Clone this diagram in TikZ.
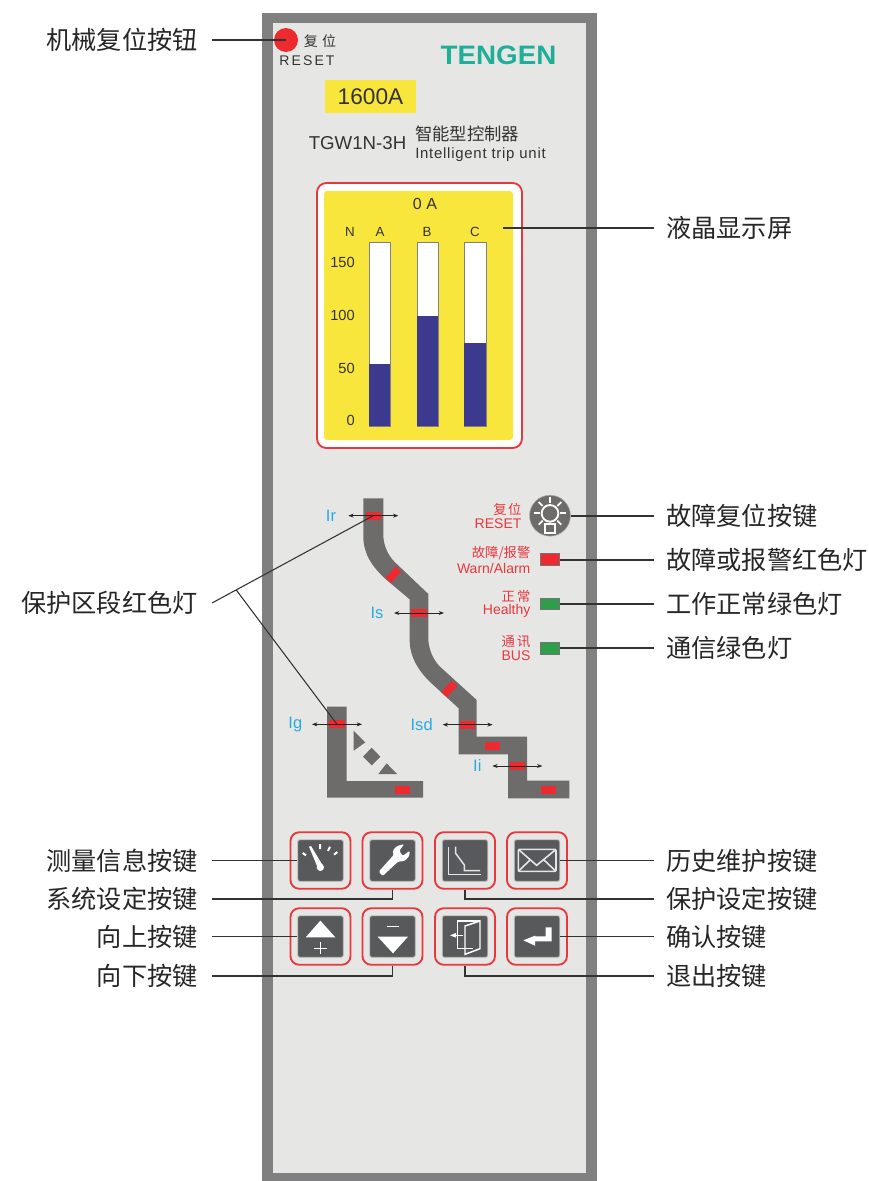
\documentclass[tikz,border=0pt]{standalone}
\usepackage{fontspec}
\setmainfont{Liberation Sans}
\newfontfamily\cjk{Noto Sans CJK SC}
\usetikzlibrary{calc,arrows.meta}
\newcommand\fsz[1]{\fontsize{#1}{#1}\selectfont}
\newcommand\pxu{0.75pt}
\definecolor{panelgray}{HTML}{808080}
\definecolor{panellight}{HTML}{E6E6E4}
\definecolor{lcdyellow}{HTML}{F8E63C}
\definecolor{barblue}{HTML}{3B3A8F}
\definecolor{redline}{HTML}{E8383D}
\definecolor{lampred}{HTML}{EC2A30}
\definecolor{lampgreen}{HTML}{2E9E4B}
\definecolor{curvegray}{HTML}{6D6C6A}
\definecolor{keydark}{HTML}{58595A}
\definecolor{logoteal}{HTML}{1FAE98}
\definecolor{inkgray}{HTML}{333333}
\definecolor{labelblue}{HTML}{29ABE2}
\tikzset{
  leader/.style={draw=black!80,line width=0.8pt},
  labelL/.style={anchor=east,inner xsep=10.5pt,inner ysep=0pt,font=\cjk\fsz{18.9pt},text=black!85},
  labelR/.style={anchor=west,inner xsep=9pt,inner ysep=0pt,font=\cjk\fsz{18.9pt},text=black!85},
  framebox/.style={draw=redline,line width=1.4pt,fill=panellight,rounded corners=6.5pt,minimum width=60*\pxu,minimum height=56.5*\pxu,inner sep=0pt},
  keycap/.style={draw=black!25,line width=0.7pt,fill=keydark,rounded corners=1.5pt,minimum width=45.5*\pxu,minimum height=41.5*\pxu,inner sep=0pt},
  iconline/.style={draw=white,line width=1.1pt},
  seglamp/.style={fill=lampred,minimum width=11.5pt,minimum height=5.8pt,inner sep=0pt},
  sigL/.style={draw=black!55,fill=#1,line width=0.7pt,minimum width=14pt,minimum height=8.6pt,inner sep=0pt},
  dblarrow/.style={{Stealth[length=4pt,width=3pt]}-{Stealth[length=4pt,width=3pt]},draw=black!85,line width=0.6pt},
  bluetxt/.style={text=labelblue,font=\fsz{12.4pt},inner sep=0pt},
  redtxt/.style={text=redline,font=\fsz{10.5pt},inner sep=0pt,anchor=east},
  redcjk/.style={text=redline,font=\cjk\fsz{10pt},inner sep=0pt,anchor=east},
  ticktxt/.style={text=inkgray,font=\fsz{11pt},inner sep=0pt},
  barbox/.style={draw=panelgray,line width=0.7pt,fill=white},
  barfill/.style={fill=barblue},
}
\begin{document}
\begin{tikzpicture}[x=0.75pt,y=-0.75pt]
\useasboundingbox (0,0) rectangle (868,1181);
\fill[white] (0,0) rectangle (868,1181);
% panel
\fill[panelgray] (262,13) rectangle (597,1181);
\fill[panellight] (272.5,23) rectangle (586,1173);

% top block
\node[circle,fill=lampred,minimum size=24*\pxu,inner sep=0pt] (resetBtn) at (286,40) {};
\node[inner sep=0pt,text=inkgray,font=\cjk\fsz{10.5pt}\addfontfeatures{LetterSpace=30}] (resetCn) at (320,41) {复位};
\node[inner sep=0pt,text=inkgray,font=\fsz{10.5pt}\addfontfeatures{LetterSpace=15}] (resetEn) at (307,60.5) {RESET};
\node[inner sep=0pt,text=logoteal,font=\bfseries\fsz{20pt}] (logo) at (498.5,55) {\scalebox{1.04}[1]{TENGEN}};
\node[fill=lcdyellow,minimum width=91*\pxu,minimum height=33*\pxu,inner sep=0pt,text=inkgray,font=\fsz{17pt}] (rating) at (370.5,96.5) {1600A};
\node[inner sep=0pt,text=inkgray,font=\fsz{14pt}] (model) at (357.5,143) {TGW1N-3H};
\node[inner sep=0pt,anchor=west,text=inkgray,font=\cjk\fsz{13pt}] (unitCn) at (415,134) {智能型控制器};
\node[inner sep=0pt,anchor=west,text=inkgray,font=\fsz{11.2pt}\addfontfeatures{LetterSpace=5}] (unitEn) at (415,155) {Intelligent trip unit};

% LCD
\draw[draw=redline,line width=1.4pt,fill=white,rounded corners=7pt] (317,183) rectangle (522,448);
\fill[lcdyellow,rounded corners=2.5pt] (324,191) rectangle (513,440);
\node[inner sep=0pt,text=inkgray,font=\fsz{12pt}] (lcdTitle) at (425,204) {0 A};
\node[ticktxt] (hN) at (350,232) {\fsz{10pt}N};
\node[ticktxt] (hA) at (380,232) {\fsz{10pt}A};
\node[ticktxt] (hB) at (427,232) {\fsz{10pt}B};
\node[ticktxt] (hC) at (475,232) {\fsz{10pt}C};
\node[ticktxt,anchor=east] (t150) at (355,262) {150};
\node[ticktxt,anchor=east] (t100) at (355,315) {100};
\node[ticktxt,anchor=east] (t50) at (355,368) {50};
\node[ticktxt,anchor=east] (t0) at (355,420) {0};
\draw[barbox] (369,242) rectangle (390,426);
\draw[barbox] (417,242) rectangle (438,426);
\draw[barbox] (464,242) rectangle (486,426);
\fill[barfill] (369,364) rectangle (390,426.3);
\fill[barfill] (417,316) rectangle (438,426.3);
\fill[barfill] (464,343) rectangle (486,426.3);
\coordinate (lcdEnd) at (503,228);

% protection curves + indicators (coordinates in 3x crop units)
\begin{scope}[shift={(280,490)},scale=0.33333]
\fill[curvegray] (250,25) -- (310,25) -- (310,140) .. controls (312,170) and (325,197) .. (345,217)
  -- (445,312) -- (445,450) .. controls (447,480) and (460,510) .. (480,530) -- (590,630) -- (590,740)
  -- (741,740) -- (741,872) -- (868,872) -- (868,925) -- (684,925) -- (684,793) -- (536,793) -- (536,655)
  -- (460,585) .. controls (415,545) and (389,500) .. (389,450) -- (389,328) -- (320,270)
  .. controls (275,230) and (250,190) .. (250,140) -- cycle;
\fill[curvegray] (141,650) -- (200,650) -- (200,873) -- (429,873) -- (429,923) -- (141,923) -- cycle;
\fill[curvegray] (221,722) -- (256,757) -- (221,782) -- cycle;
\fill[curvegray] (275,773) -- (301,800) -- (275,826) -- (249,800) -- cycle;
\fill[curvegray] (320,820) -- (351,852) -- (295,852) -- cycle;
\node[seglamp] (segIr) at (280,77) {};
\node[seglamp,rotate=48] (segA) at (340,254) {};
\node[seglamp] (segIs) at (417,369) {};
\node[seglamp,rotate=48] (segB) at (508,597) {};
\node[seglamp] (segIsd) at (563,704) {};
\node[seglamp] (segC) at (638,767) {};
\node[seglamp] (segIi) at (712,828) {};
\node[seglamp] (segD) at (805,899) {};
\node[seglamp] (segIg) at (171,703) {};
\node[seglamp] (segE) at (368,899) {};
\draw[dblarrow] ([xshift=-56.25pt]segIr.center) -- ([xshift=56.25pt]segIr.center);
\draw[dblarrow] ([xshift=-56.25pt]segIs.center) -- ([xshift=56.25pt]segIs.center);
\draw[dblarrow] ([xshift=-56.25pt]segIsd.center) -- ([xshift=56.25pt]segIsd.center);
\draw[dblarrow] ([xshift=-56.25pt]segIi.center) -- ([xshift=56.25pt]segIi.center);
\draw[dblarrow] ([xshift=-56.25pt]segIg.center) -- ([xshift=56.25pt]segIg.center);
\node[bluetxt] (tIr) at (153,78) {Ir};
\node[bluetxt] (tIs) at (291,370) {Is};
\node[bluetxt] (tIg) at (46,703) {Ig};
\node[bluetxt] (tIsd) at (425,704) {Isd};
\node[bluetxt] (tIi) at (592,828) {Ii};
% status texts
\node[redcjk,font=\cjk\fsz{10pt}\addfontfeatures{LetterSpace=10}] (tResetCn) at (725,57) {复位};
\node[redtxt] (tResetEn) at (725,102) {RESET};
\node[redcjk] (tWarnCn) at (752,190) {故障/报警};
\node[redtxt] (tWarnEn) at (752,235) {Warn/Alarm};
\node[redcjk,font=\cjk\fsz{10pt}\addfontfeatures{LetterSpace=15}] (tOkCn) at (752,320) {正常};
\node[redtxt] (tOkEn) at (752,363) {Healthy};
\node[redcjk,font=\cjk\fsz{10pt}\addfontfeatures{LetterSpace=15}] (tBusCn) at (752,455) {通讯};
\node[redtxt] (tBusEn) at (752,498) {BUS};
% bulb button
\node[circle,fill=curvegray,draw=black!30,line width=0.4pt,minimum size=41*\pxu,inner sep=0pt] (bulbBtn) at (810,77) {};
\draw[iconline,line width=1.4pt] (810,70) circle (25);
\draw[iconline,line width=1.4pt] (795,102) rectangle (825,128);
\foreach \a in {0,45,90,135,180,225,315}
  \draw[iconline,line width=1.4pt] ($(810,70)+(\a:-31)$) -- ($(810,70)+(\a:-48)$);
% signal lamps
\node[sigL=lampred] (lampWarn) at (810,209) {};
\node[sigL=lampgreen] (lampOk) at (810,342) {};
\node[sigL=lampgreen] (lampBus) at (810,475) {};
\end{scope}

% keys
\foreach \nm/\cx/\cy in {Meas/320.5/860.5,Sys/392.5/860.5,Prot/465/860.5,Hist/537/860.5,Up/320.5/936.5,Down/392.5/936.5,Exit/465/936.5,Ok/537/936.5}{
  \node[framebox] (f\nm) at (\cx,\cy) {};
  \node[keycap] (k\nm) at (\cx,\cy) {};
}
\begin{scope}[shift={(280,820)},scale=0.33333]
% gauge
\fill[white] (121,142) circle (11);
\fill[white] (112,140) -- (87,80) -- (93,78) -- (128,136) -- cycle;
\draw[iconline,line width=1.5pt] (68,99) -- (78,106) (120,72) -- (120,87) (150,80) -- (144,93) (172,96) -- (162,104);
% wrench
\fill[white,rounded corners=1pt] (296,155) -- (341,105) -- (338,92) -- (351,78) -- (373,72) -- (358,92) -- (368,108) -- (389,92) -- (388,108) -- (374,123) -- (354,125) -- (308,168) -- cycle;
% curve icon
\draw[iconline,draw=white!90!black] (527,80) -- (527,100) -- (553,135) -- (553,152) -- (600,152);
\draw[iconline,draw=white!90!black] (505,80) -- (505,163) -- (602,163);
% envelope
\draw[iconline,draw=white!90!black,line width=1.2pt,rounded corners=1pt] (715,88) rectangle (828,154);
\draw[iconline,draw=white!90!black,line width=1.2pt] (715,88) -- (770,136) -- (828,88) (715,154) -- (752,118) (828,154) -- (790,118);
% up
\fill[white] (77,352) -- (166,352) -- (121,302) -- cycle;
\draw[iconline,line width=1.2pt] (102,385) -- (140,385) (121,366) -- (121,403);
% down
\fill[white] (293,350) -- (384,350) -- (339,400) -- cycle;
\draw[iconline,line width=1.2pt] (320,320) -- (358,320);
% door
\draw[iconline] (600,303) -- (533,303) -- (533,385) -- (580,385);
\draw[iconline] (555,318) -- (600,303) -- (600,386) -- (555,403) -- cycle;
\draw[iconline] (525,346) -- (550,346);
\fill[white] (510,346) -- (528,339) -- (528,353) -- cycle;
% enter
\fill[white] (815,322) -- (815,364) -- (765,364) -- (765,377) -- (730,361) -- (765,347) -- (765,349) -- (797,349) -- (797,322) -- cycle;
\end{scope}

% labels left
\node[labelL] (lMech) at (212,40) {机械复位按钮};
\node[labelL] (lZone) at (212,603) {保护区段红色灯};
\node[labelL] (lMeas) at (212,860.5) {测量信息按键};
\node[labelL] (lSys) at (212,899) {系统设定按键};
\node[labelL] (lUp) at (212,936.5) {向上按键};
\node[labelL] (lDown) at (212,976) {向下按键};
% labels right
\node[labelR] (rLcd) at (654,228) {液晶显示屏};
\node[labelR] (rBulb) at (654,516) {故障复位按键};
\node[labelR] (rWarn) at (654,560) {故障或报警红色灯};
\node[labelR] (rOk) at (654,604) {工作正常绿色灯};
\node[labelR] (rBus) at (654,648) {通信绿色灯};
\node[labelR] (rHist) at (654,860.5) {历史维护按键};
\node[labelR] (rProt) at (654,899) {保护设定按键};
\node[labelR] (rOk2) at (654,936.5) {确认按键};
\node[labelR] (rExit) at (654,976) {退出按键};

% connectors
\draw[leader] (lMech.east) -- (lMech.east -| resetBtn.center);
\draw[leader] (rLcd.west) -- (lcdEnd);
\draw[leader] (rBulb.west) -- (rBulb.west -| bulbBtn.east);
\draw[leader] (rWarn.west) -- (rWarn.west -| lampWarn.east);
\draw[leader] (rOk.west) -- (rOk.west -| lampOk.east);
\draw[leader] (rBus.west) -- (rBus.west -| lampBus.east);
\coordinate (zoneBranch) at ($(lZone.east)!0.15!(segIr.center)$);
\draw[leader] (lZone.east) -- (segIr.center);
\draw[leader] (zoneBranch) -- (segIg.center);
\draw[leader] (lMeas.east) -- (kMeas.west);
\draw[leader] (lSys.east) -| (fSys.south);
\draw[leader] (lUp.east) -- (kUp.west);
\draw[leader] (lDown.east) -| (fDown.south);
\draw[leader] (rHist.west) -- (kHist.east);
\draw[leader] (rProt.west) -| (fProt.south);
\draw[leader] (rOk2.west) -- (kOk.east);
\draw[leader] (rExit.west) -| (fExit.south);
\end{tikzpicture}
\end{document}
